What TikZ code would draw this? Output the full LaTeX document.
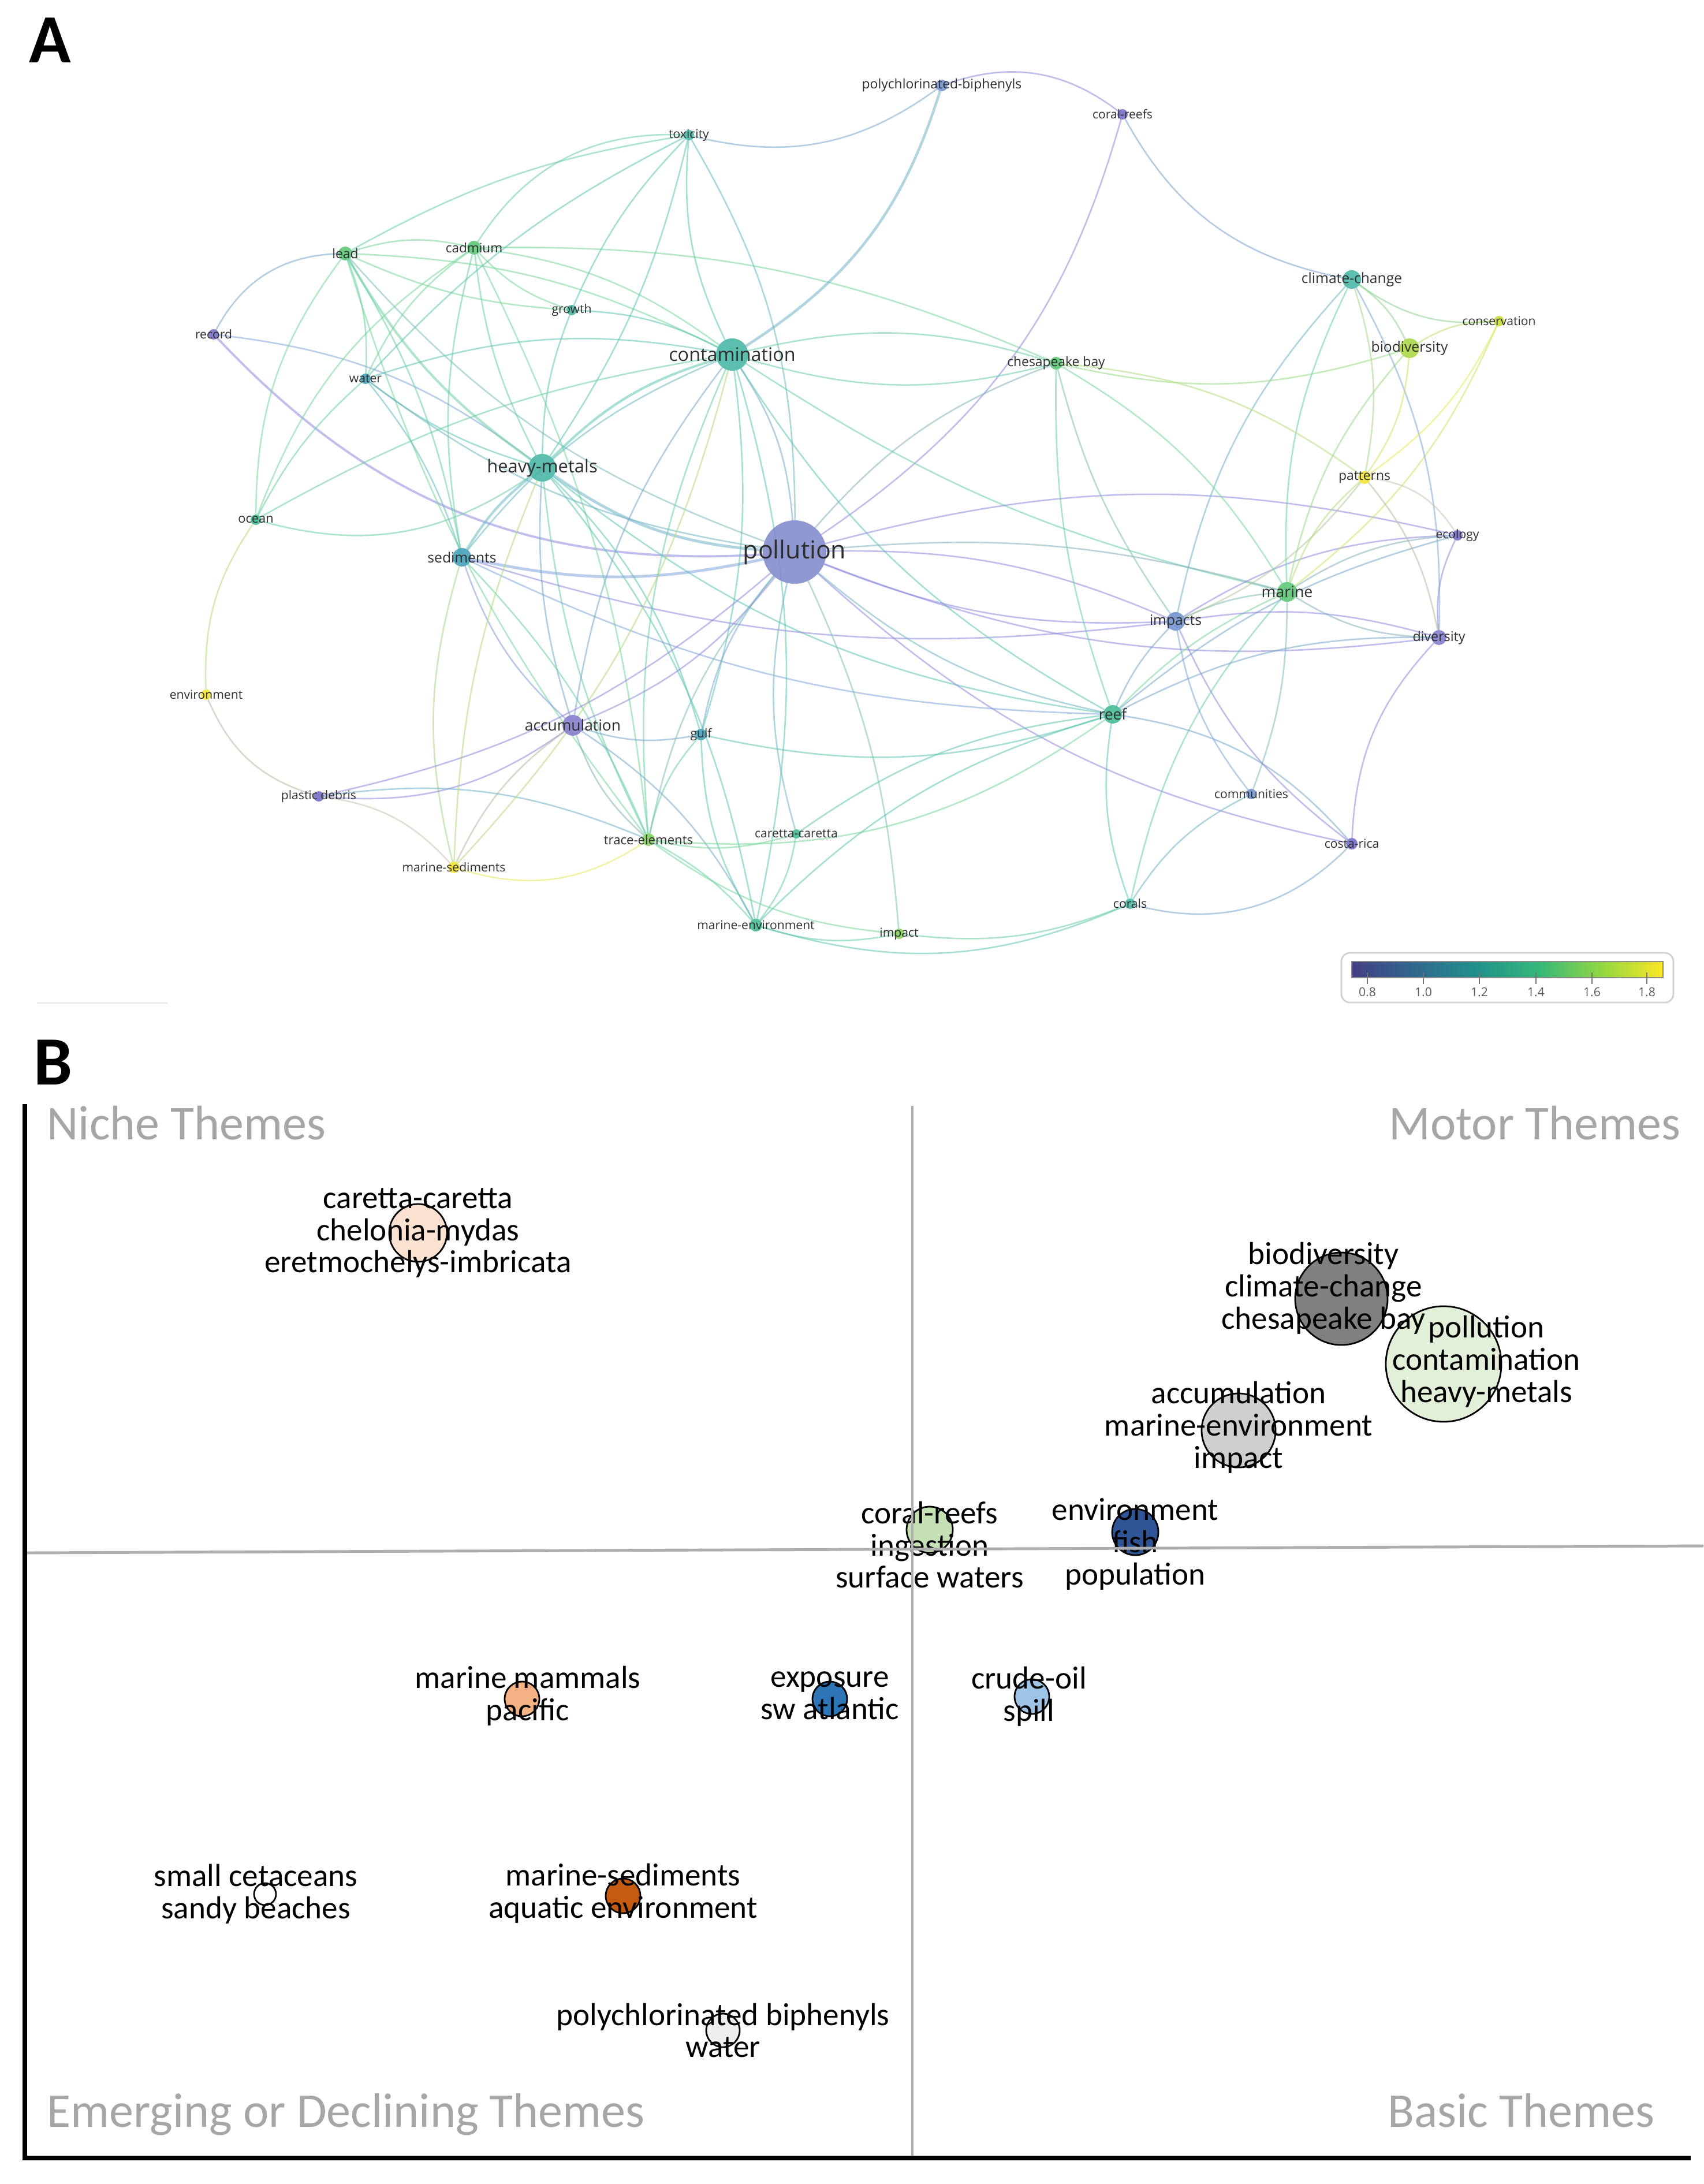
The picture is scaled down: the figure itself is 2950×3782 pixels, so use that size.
\documentclass[tikz,border=0pt]{standalone}
\usepackage{fontspec}
\setmainfont{Carlito}
\newfontfamily\vosfont{Open Sans}
\usetikzlibrary{backgrounds}

% keyword colours (map A)
\definecolor{kwViolet}{HTML}{6F67C2}
\definecolor{kwPeri}{HTML}{7D86CB}
\definecolor{kwLav}{HTML}{7E79C9}
\definecolor{kwSteel}{HTML}{6A8CCD}
\definecolor{kwCyan}{HTML}{3A9DB5}
\definecolor{kwTeal}{HTML}{3FB3A2}
\definecolor{kwSea}{HTML}{3BB78F}
\definecolor{kwGreen}{HTML}{55C570}
\definecolor{kwLeaf}{HTML}{80CD55}
\definecolor{kwLime}{HTML}{A8D43C}
\definecolor{kwChart}{HTML}{C9DC2E}
\definecolor{kwYellow}{HTML}{F1E22A}
\definecolor{kwText}{HTML}{2E2E2E}
% link colours
\definecolor{lkPurple}{HTML}{8C8ADF}
\definecolor{lkBlue}{HTML}{7FA6D9}
\definecolor{lkTeal}{HTML}{5EC5B2}
\definecolor{lkGreen}{HTML}{78D79A}
\definecolor{lkLime}{HTML}{B9E06C}
\definecolor{lkYellow}{HTML}{E9E85E}
\definecolor{lkGray}{HTML}{C9C4B5}
% viridis bar
\definecolor{vir0}{HTML}{433E85}
\definecolor{vir1}{HTML}{31688E}
\definecolor{vir2}{HTML}{21918C}
\definecolor{vir3}{HTML}{35B779}
\definecolor{vir4}{HTML}{90D743}
\definecolor{vir5}{HTML}{FDE725}
% theme colours (map B)
\definecolor{thTurtle}{HTML}{FBE2D0}
\definecolor{thDark}{HTML}{808080}
\definecolor{thPale}{HTML}{E2F0D9}
\definecolor{thSilver}{HTML}{D0CECE}
\definecolor{thSage}{HTML}{C5E0B4}
\definecolor{thNavy}{HTML}{2F5597}
\definecolor{thBlue}{HTML}{2E75B6}
\definecolor{thSky}{HTML}{9DC3E6}
\definecolor{thApricot}{HTML}{F4B183}
\definecolor{thRust}{HTML}{C55A11}
\definecolor{thMist}{HTML}{EDEDED}
\definecolor{thLabel}{HTML}{A6A6A6}
\definecolor{thLine}{HTML}{AEAEAE}

\pgfdeclarehorizontalshading{viridisbar}{100bp}{color(0bp)=(vir0); color(25bp)=(vir0); color(35bp)=(vir1); color(45bp)=(vir2); color(55bp)=(vir3); color(65bp)=(vir4); color(75bp)=(vir5); color(100bp)=(vir5)}

\begin{document}
\begin{tikzpicture}[x=0.01cm,y=-0.01cm]
  \tikzset{KeywordStyle/.style 2 args = {
    shape         = circle,
    draw          = none,
    fill          = #2,
    fill opacity  = 0.85,
    minimum size  = #1,
    inner sep     = 0pt,
    outer sep     = 0pt
    }
  }
  \tikzset{KeywordLabelStyle/.style = {
    font          = \vosfont\fontsize{#1}{#1}\selectfont,
    text          = kwText,
    inner sep     = 0pt
    }
  }
  \tikzset{LinkStyle/.style = {
    draw          = #1,
    draw opacity  = 0.55,
    line width    = 0.75pt
    }
  }
  \tikzset{ThemeBubbleStyle/.style 2 args = {
    shape         = circle,
    draw          = black,
    line width    = 0.8pt,
    fill          = #2,
    minimum size  = #1,
    inner sep     = 0pt
    }
  }
  \tikzset{ThemeTextStyle/.style = {
    font          = \fontsize{15.7}{15.9}\selectfont,
    align         = center,
    text          = black,
    inner sep     = 0pt
    }
  }
  \tikzset{QuadrantTextStyle/.style = {
    font          = \fontsize{23.9}{24}\selectfont,
    text          = thLabel,
    inner sep     = 0pt
    }
  }
  \tikzset{PanelStyle/.style = {
    font          = \bfseries\fontsize{34}{34}\selectfont,
    inner sep     = 0pt
    }
  }
  \tikzset{TickLabelStyle/.style = {
    font          = \vosfont\fontsize{6}{6}\selectfont,
    text          = black!65,
    inner sep     = 0pt
    }
  }

  \useasboundingbox (0,0) rectangle (2950,3782);

  % ---- panel A : keyword network
  \node[PanelStyle, anchor=base west] (panelA) at (50,109) {A};

	\node[KeywordStyle={1.10cm}{kwPeri}, label={[KeywordLabelStyle=12.2]center:pollution}] (pollution) at (1376,956) {};
	\node[KeywordStyle={0.56cm}{kwTeal}, label={[KeywordLabelStyle=9.2]center:contamination}] (contamination) at (1268,614) {};
	\node[KeywordStyle={0.48cm}{kwTeal}, label={[KeywordLabelStyle=8.8]center:heavy-metals}] (heavymetals) at (939,810) {};
	\node[KeywordStyle={0.36cm}{kwLav}, label={[KeywordLabelStyle=7.5]center:accumulation}] (accumulation) at (992,1256) {};
	\node[KeywordStyle={0.32cm}{kwCyan}, label={[KeywordLabelStyle=7.0]center:sediments}] (sediments) at (800,965) {};
	\node[KeywordStyle={0.32cm}{kwSea}, label={[KeywordLabelStyle=7.4]center:reef}] (reef) at (1927,1237) {};
	\node[KeywordStyle={0.34cm}{kwGreen}, label={[KeywordLabelStyle=7.6]center:marine}] (marine) at (2229,1025) {};
	\node[KeywordStyle={0.32cm}{kwSteel}, label={[KeywordLabelStyle=7.0]center:impacts}] (impacts) at (2036,1076) {};
	\node[KeywordStyle={0.32cm}{kwTeal}, label={[KeywordLabelStyle=7.0]center:climate-change}] (climatechange) at (2341,484) {};
	\node[KeywordStyle={0.34cm}{kwLime}, label={[KeywordLabelStyle=7.0]center:biodiversity}] (biodiversity) at (2441,603) {};
	\node[KeywordStyle={0.18cm}{kwChart}, label={[KeywordLabelStyle=6.0]center:conservation}] (conservation) at (2596,556) {};
	\node[KeywordStyle={0.22cm}{kwYellow}, label={[KeywordLabelStyle=6.5]center:patterns}] (patterns) at (2363,827) {};
	\node[KeywordStyle={0.18cm}{kwYellow}, label={[KeywordLabelStyle=6.0]center:environment}] (environment) at (357,1203) {};
	\node[KeywordStyle={0.20cm}{kwYellow}, label={[KeywordLabelStyle=6.0]center:marine-sediments}] (marinesediments) at (786,1502) {};
	\node[KeywordStyle={0.24cm}{kwGreen}, label={[KeywordLabelStyle=6.5]center:lead}] (lead) at (598,439) {};
	\node[KeywordStyle={0.24cm}{kwGreen}, label={[KeywordLabelStyle=6.4]center:cadmium}] (cadmium) at (821,429) {};
	\node[KeywordStyle={0.18cm}{kwTeal}, label={[KeywordLabelStyle=6.0]center:growth}] (growth) at (990,537) {};
	\node[KeywordStyle={0.18cm}{kwTeal}, label={[KeywordLabelStyle=6.0]center:toxicity}] (toxicity) at (1193,234) {};
	\node[KeywordStyle={0.18cm}{kwCyan}, label={[KeywordLabelStyle=6.0]center:water}] (water) at (633,656) {};
	\node[KeywordStyle={0.18cm}{kwSea}, label={[KeywordLabelStyle=6.2]center:ocean}] (ocean) at (443,900) {};
	\node[KeywordStyle={0.18cm}{kwViolet}, label={[KeywordLabelStyle=6.0]center:record}] (record) at (370,579) {};
	\node[KeywordStyle={0.18cm}{kwViolet}, label={[KeywordLabelStyle=6.0]center:plastic debris}] (plasticdebris) at (552,1379) {};
	\node[KeywordStyle={0.20cm}{kwSteel}, label={[KeywordLabelStyle=6.5]center:polychlorinated-biphenyls}] (pcb) at (1631,148) {};
	\node[KeywordStyle={0.18cm}{kwViolet}, label={[KeywordLabelStyle=6.0]center:coral-reefs}] (coralreefs) at (1944,198) {};
	\node[KeywordStyle={0.22cm}{kwGreen}, label={[KeywordLabelStyle=6.5]center:chesapeake bay}] (chesapeake) at (1829,629) {};
	\node[KeywordStyle={0.20cm}{kwCyan}, label={[KeywordLabelStyle=6.0]center:gulf}] (gulf) at (1214,1272) {};
	\node[KeywordStyle={0.22cm}{kwLeaf}, label={[KeywordLabelStyle=6.3]center:trace-elements}] (traceelements) at (1123,1454) {};
	\node[KeywordStyle={0.16cm}{kwSea}, label={[KeywordLabelStyle=6.0]center:caretta-caretta}] (carettacaretta) at (1379,1444) {};
	\node[KeywordStyle={0.22cm}{kwSea}, label={[KeywordLabelStyle=6.0]center:marine-environment}] (marineenvironment) at (1309,1602) {};
	\node[KeywordStyle={0.18cm}{kwLeaf}, label={[KeywordLabelStyle=6.0]center:impact}] (impact) at (1557,1617) {};
	\node[KeywordStyle={0.18cm}{kwTeal}, label={[KeywordLabelStyle=6.0]center:corals}] (corals) at (1957,1565) {};
	\node[KeywordStyle={0.18cm}{kwSteel}, label={[KeywordLabelStyle=6.0]center:communities}] (communities) at (2167,1375) {};
	\node[KeywordStyle={0.20cm}{kwViolet}, label={[KeywordLabelStyle=6.0]center:costa-rica}] (costarica) at (2341,1461) {};
	\node[KeywordStyle={0.26cm}{kwLav}, label={[KeywordLabelStyle=6.6]center:diversity}] (diversity) at (2492,1104) {};
	\node[KeywordStyle={0.18cm}{kwViolet}, label={[KeywordLabelStyle=6.0]center:ecology}] (ecology) at (2524,927) {};

  \begin{pgfonlayer}{background}
	\fill[white] (0,0) rectangle (2950,3782);
	\draw[LinkStyle=lkPurple!50!lkTeal](record) to[bend left=30] (lead);
	\draw[LinkStyle=lkPurple, line width=1.1pt](record) to[bend right=25] (pollution);
	\draw[LinkStyle=lkBlue](record) to[bend left=15] (heavymetals);
	\draw[LinkStyle=lkGreen](lead) to[bend left=15] (cadmium);
	\draw[LinkStyle=lkGreen](lead) to[bend right=10] (growth);
	\draw[LinkStyle=lkGreen](lead) to[bend left=12] (contamination);
	\draw[LinkStyle=lkGreen!60!lkTeal, line width=1.2pt](lead) to[bend right=12] (heavymetals);
	\draw[LinkStyle=lkGreen!50!lkTeal](lead) to[bend left=10] (sediments);
	\draw[LinkStyle=lkGreen](lead) to[bend right=18] (ocean);
	\draw[LinkStyle=lkGreen!50!lkTeal](lead) to[bend left=12] (water);
	\draw[LinkStyle=lkGreen!40!lkBlue](lead) to[bend right=14] (pollution);
	\draw[LinkStyle=lkGreen](lead) to[bend right=10] (traceelements);
	\draw[LinkStyle=lkGreen!50!lkTeal](cadmium) to[bend right=10] (heavymetals);
	\draw[LinkStyle=lkGreen](cadmium) to[bend left=14] (contamination);
	\draw[LinkStyle=lkGreen](cadmium) to[bend right=14] (growth);
	\draw[LinkStyle=lkGreen!50!lkTeal](cadmium) to[bend right=12] (sediments);
	\draw[LinkStyle=lkGreen](cadmium) to[bend right=14] (water);
	\draw[LinkStyle=lkGreen](cadmium) to[bend right=18] (ocean);
	\draw[LinkStyle=lkGreen](cadmium) to[bend left=12] (chesapeake);
	\draw[LinkStyle=lkGreen](cadmium) to[bend left=10] (traceelements);
	\draw[LinkStyle=lkTeal!50!lkGreen](toxicity) to[bend right=30] (cadmium);
	\draw[LinkStyle=lkTeal!50!lkGreen](toxicity) to[bend right=10] (lead);
	\draw[LinkStyle=lkTeal](toxicity) to[bend left=10] (heavymetals);
	\draw[LinkStyle=lkTeal](toxicity) to[bend right=10] (water);
	\draw[LinkStyle=lkTeal](toxicity) to[bend right=15] (contamination);
	\draw[LinkStyle=lkTeal!60!lkBlue](toxicity) to[bend left=15] (pollution);
	\draw[LinkStyle=lkTeal!50!lkPurple](toxicity) to[bend right=25] (pcb);
	\draw[LinkStyle=lkTeal](toxicity) to[bend right=10] (growth);
	\draw[LinkStyle=lkBlue!60!lkTeal, line width=1.3pt](pcb) to[bend left=20] (contamination);
	\draw[LinkStyle=lkPurple](pcb) to[bend left=28] (coralreefs);
	\draw[LinkStyle=lkPurple!60!lkTeal](coralreefs) to[bend right=25] (climatechange);
	\draw[LinkStyle=lkPurple](coralreefs) to[bend left=20] (pollution);
	\draw[LinkStyle=lkTeal](water) to[bend right=10] (heavymetals);
	\draw[LinkStyle=lkTeal](water) to[bend left=14] (contamination);
	\draw[LinkStyle=lkBlue!50!lkTeal](water) to[bend right=14] (pollution);
	\draw[LinkStyle=lkTeal!60!lkBlue](water) to[bend left=10] (sediments);
	\draw[LinkStyle=lkTeal!50!lkGreen](water) to[bend right=10] (ocean);
	\draw[LinkStyle=lkTeal](growth) to[bend right=10] (heavymetals);
	\draw[LinkStyle=lkTeal](growth) to[bend left=12] (contamination);
	\draw[LinkStyle=lkTeal!50!lkGreen](ocean) to[bend right=25] (heavymetals);
	\draw[LinkStyle=lkGreen!50!lkYellow](ocean) to[bend right=18] (environment);
	\draw[LinkStyle=lkYellow!50!lkPurple](environment) to[bend right=25] (plasticdebris);
	\draw[LinkStyle=lkGreen!50!lkTeal](ocean) to[bend left=10] (contamination);
	\draw[LinkStyle=lkTeal, line width=1.2pt](heavymetals) to[bend left=14] (contamination);
	\draw[LinkStyle=lkTeal!60!lkBlue, line width=1.2pt](heavymetals) to[bend right=10] (sediments);
	\draw[LinkStyle=lkBlue!60!lkTeal, line width=1.4pt](heavymetals) to[bend right=15] (pollution);
	\draw[LinkStyle=lkTeal!50!lkPurple](heavymetals) to[bend right=10] (accumulation);
	\draw[LinkStyle=lkTeal!50!lkGreen](heavymetals) to[bend right=10] (traceelements);
	\draw[LinkStyle=lkTeal](heavymetals) to[bend left=14] (marineenvironment);
	\draw[LinkStyle=lkTeal](heavymetals) to[bend left=14] (gulf);
	\draw[LinkStyle=lkTeal](heavymetals) to[bend right=15] (reef);
	\draw[LinkStyle=lkBlue, line width=1.4pt](sediments) to[bend right=12] (pollution);
	\draw[LinkStyle=lkBlue!60!lkPurple](sediments) to[bend right=14] (accumulation);
	\draw[LinkStyle=lkTeal!60!lkBlue](sediments) to[bend left=14] (contamination);
	\draw[LinkStyle=lkYellow!50!lkTeal](sediments) to[bend right=15] (marinesediments);
	\draw[LinkStyle=lkTeal!50!lkGreen](sediments) to[bend left=10] (traceelements);
	\draw[LinkStyle=lkPurple](sediments) to[bend right=12] (impacts);
	\draw[LinkStyle=lkBlue](sediments) to[bend right=12] (reef);
	\draw[LinkStyle=lkTeal!50!lkPurple](contamination) to[bend left=14] (pollution);
	\draw[LinkStyle=lkTeal!50!lkGreen](contamination) to[bend left=15] (chesapeake);
	\draw[LinkStyle=lkTeal!50!lkGreen](contamination) to[bend right=15] (chesapeake);
	\draw[LinkStyle=lkTeal](contamination) to[bend right=14] (reef);
	\draw[LinkStyle=lkTeal!50!lkGreen](contamination) to[bend right=10] (marine);
	\draw[LinkStyle=lkTeal!50!lkPurple](contamination) to[bend right=14] (accumulation);
	\draw[LinkStyle=lkTeal](contamination) to[bend left=14] (marineenvironment);
	\draw[LinkStyle=lkTeal!50!lkGreen](contamination) to[bend right=14] (traceelements);
	\draw[LinkStyle=lkTeal](contamination) to[bend left=12] (gulf);
	\draw[LinkStyle=lkPurple](pollution) to[bend left=12] (impacts);
	\draw[LinkStyle=lkPurple](pollution) to[bend right=12] (impacts);
	\draw[LinkStyle=lkPurple!50!lkGreen](pollution) to[bend left=10] (marine);
	\draw[LinkStyle=lkPurple](pollution) to[bend right=14] (diversity);
	\draw[LinkStyle=lkPurple](pollution) to[bend left=14] (ecology);
	\draw[LinkStyle=lkBlue!50!lkTeal](pollution) to[bend right=14] (reef);
	\draw[LinkStyle=lkPurple](pollution) to[bend right=15] (costarica);
	\draw[LinkStyle=lkBlue](pollution) to[bend right=14] (gulf);
	\draw[LinkStyle=lkPurple](pollution) to[bend left=14] (accumulation);
	\draw[LinkStyle=lkBlue!50!lkTeal](pollution) to[bend right=14] (carettacaretta);
	\draw[LinkStyle=lkBlue!40!lkGreen](pollution) to[bend left=10] (impact);
	\draw[LinkStyle=lkPurple](pollution) to[bend left=14] (plasticdebris);
	\draw[LinkStyle=lkBlue!50!lkGreen](pollution) to[bend right=14] (traceelements);
	\draw[LinkStyle=lkPurple!50!lkGreen](pollution) to[bend left=14] (chesapeake);
	\draw[LinkStyle=lkPurple](accumulation) to[bend left=20] (plasticdebris);
	\draw[LinkStyle=lkPurple!50!lkYellow](accumulation) to[bend right=14] (marinesediments);
	\draw[LinkStyle=lkPurple!50!lkGreen](accumulation) to[bend right=14] (traceelements);
	\draw[LinkStyle=lkPurple!50!lkTeal](accumulation) to[bend left=14] (marineenvironment);
	\draw[LinkStyle=lkPurple!50!lkTeal](accumulation) to[bend right=14] (gulf);
	\draw[LinkStyle=lkGray](plasticdebris) to[bend left=20] (marinesediments);
	\draw[LinkStyle=lkBlue!60!lkTeal](plasticdebris) to[bend left=15] (traceelements);
	\draw[LinkStyle=lkYellow](marinesediments) to[bend right=25] (traceelements);
	\draw[LinkStyle=lkYellow!60!lkTeal](marinesediments) to[bend right=14] (contamination);
	\draw[LinkStyle=lkYellow!60!lkTeal](marinesediments) to[bend left=10] (heavymetals);
	\draw[LinkStyle=lkGreen](traceelements) to[bend right=20] (reef);
	\draw[LinkStyle=lkGreen](traceelements) to[bend right=14] (carettacaretta);
	\draw[LinkStyle=lkGreen!50!lkTeal](traceelements) to[bend left=10] (marineenvironment);
	\draw[LinkStyle=lkGreen](traceelements) to[bend right=15] (impact);
	\draw[LinkStyle=lkGreen!50!lkTeal](traceelements) to[bend left=14] (gulf);
	\draw[LinkStyle=lkTeal](gulf) to[bend right=15] (reef);
	\draw[LinkStyle=lkTeal](gulf) to[bend right=14] (marineenvironment);
	\draw[LinkStyle=lkTeal!50!lkGreen](carettacaretta) to[bend left=14] (marineenvironment);
	\draw[LinkStyle=lkTeal](carettacaretta) to[bend left=14] (reef);
	\draw[LinkStyle=lkTeal!50!lkGreen](marineenvironment) to[bend right=14] (impact);
	\draw[LinkStyle=lkTeal](marineenvironment) to[bend right=20] (corals);
	\draw[LinkStyle=lkTeal](marineenvironment) to[bend left=14] (reef);
	\draw[LinkStyle=lkGreen!50!lkTeal](impact) to[bend right=14] (corals);
	\draw[LinkStyle=lkTeal](corals) to[bend left=14] (reef);
	\draw[LinkStyle=lkTeal!50!lkBlue](corals) to[bend left=15] (communities);
	\draw[LinkStyle=lkTeal!50!lkPurple](corals) to[bend right=30] (costarica);
	\draw[LinkStyle=lkTeal!50!lkGreen](corals) to[bend left=14] (marine);
	\draw[LinkStyle=lkTeal!50!lkPurple](reef) to[bend left=10] (impacts);
	\draw[LinkStyle=lkGreen](reef) to[bend left=10] (marine);
	\draw[LinkStyle=lkPurple!50!lkTeal](reef) to[bend left=20] (costarica);
	\draw[LinkStyle=lkPurple!50!lkTeal](reef) to[bend left=14] (diversity);
	\draw[LinkStyle=lkGreen!50!lkTeal](reef) to[bend left=10] (chesapeake);
	\draw[LinkStyle=lkPurple!50!lkTeal](reef) to[bend left=12] (ecology);
	\draw[LinkStyle=lkBlue](communities) to[bend left=14] (impacts);
	\draw[LinkStyle=lkBlue!50!lkGreen](communities) to[bend right=10] (marine);
	\draw[LinkStyle=lkPurple](costarica) to[bend left=20] (diversity);
	\draw[LinkStyle=lkPurple](impacts) to[bend right=14] (costarica);
	\draw[LinkStyle=lkBlue!50!lkGreen](impacts) to[bend left=10] (marine);
	\draw[LinkStyle=lkPurple](impacts) to[bend left=12] (diversity);
	\draw[LinkStyle=lkPurple](impacts) to[bend left=15] (ecology);
	\draw[LinkStyle=lkBlue!50!lkTeal](impacts) to[bend left=15] (climatechange);
	\draw[LinkStyle=lkBlue!50!lkYellow](impacts) to[bend right=14] (patterns);
	\draw[LinkStyle=lkGreen!50!lkPurple](marine) to[bend right=15] (diversity);
	\draw[LinkStyle=lkGreen!50!lkPurple](marine) to[bend left=14] (ecology);
	\draw[LinkStyle=lkGreen!50!lkYellow](marine) to[bend left=14] (patterns);
	\draw[LinkStyle=lkGreen!50!lkLime](marine) to[bend left=14] (biodiversity);
	\draw[LinkStyle=lkGreen](marine) to[bend right=14] (chesapeake);
	\draw[LinkStyle=lkTeal!50!lkGreen](marine) to[bend left=14] (climatechange);
	\draw[LinkStyle=lkLime!60!lkYellow](marine) to[bend right=14] (conservation);
	\draw[LinkStyle=lkPurple](diversity) to[bend left=15] (ecology);
	\draw[LinkStyle=lkBlue](diversity) to[bend right=15] (climatechange);
	\draw[LinkStyle=lkPurple!50!lkYellow](diversity) to[bend right=14] (patterns);
	\draw[LinkStyle=lkGray](ecology) to[bend right=25] (patterns);
	\draw[LinkStyle=lkTeal!50!lkLime](climatechange) to[bend left=14] (biodiversity);
	\draw[LinkStyle=lkTeal!50!lkLime](climatechange) to[bend right=20] (conservation);
	\draw[LinkStyle=lkTeal!50!lkYellow](climatechange) to[bend left=14] (patterns);
	\draw[LinkStyle=lkLime](biodiversity) to[bend left=15] (conservation);
	\draw[LinkStyle=lkLime!60!lkYellow](biodiversity) to[bend left=15] (patterns);
	\draw[LinkStyle=lkLime!50!lkGreen](biodiversity) to[bend left=15] (chesapeake);
	\draw[LinkStyle=lkYellow](conservation) to[bend left=14] (patterns);
	\draw[LinkStyle=lkGreen!50!lkYellow](chesapeake) to[bend left=15] (patterns);
	\draw[LinkStyle=lkGreen!50!lkBlue](chesapeake) to[bend right=10] (impacts);
  \end{pgfonlayer}

  % colour scale
  \draw[black!18, line width=0.8pt, rounded corners=0.15cm] (2323,1650) rectangle (2898,1736);
  \shade[shading=viridisbar] (2341,1665) rectangle (2880,1693);
  \draw[black!45, line width=0.4pt] (2341,1665) rectangle (2880,1693);
	\node[TickLabelStyle] (tick08) at (2368,1718) {0.8};
	\node[TickLabelStyle] (tick10) at (2465,1718) {1.0};
	\node[TickLabelStyle] (tick12) at (2562,1718) {1.2};
	\node[TickLabelStyle] (tick14) at (2660,1718) {1.4};
	\node[TickLabelStyle] (tick16) at (2757,1718) {1.6};
	\node[TickLabelStyle] (tick18) at (2852,1718) {1.8};
  \draw[black!55, line width=0.5pt] (2368,1684) -- (2368,1704) (2465,1684) -- (2465,1704) (2562,1684) -- (2562,1704) (2660,1684) -- (2660,1704) (2757,1684) -- (2757,1704) (2852,1684) -- (2852,1704);
  \draw[black!10, line width=0.8pt] (64,1737) -- (290,1737);

  % ---- panel B : thematic map
  \node[PanelStyle, anchor=base west] (panelB) at (58,1878) {B};
	\node[QuadrantTextStyle, anchor=base west] (niche) at (81,1973) {Niche Themes};
	\node[QuadrantTextStyle, anchor=base east] (motor) at (2911,1973) {Motor Themes};
	\node[QuadrantTextStyle, anchor=base west] (emerging) at (81,3683) {Emerging or Declining Themes};
	\node[QuadrantTextStyle, anchor=base east] (basic) at (2866,3683) {Basic Themes};

	\node[ThemeBubbleStyle={1.0cm}{thTurtle}, label={[ThemeTextStyle]center:caretta-caretta\\chelonia-mydas\\eretmochelys-imbricata}] (tTurtles) at (724,2135) {};
	\node[ThemeBubbleStyle={2.0cm}{thPale}, label={[ThemeTextStyle, xshift=0.74cm, yshift=0.04cm]center:pollution\\contamination\\heavy-metals}] (tPollution) at (2500,2362) {};
	\node[ThemeBubbleStyle={1.6cm}{thDark}, label={[ThemeTextStyle, xshift=-0.31cm, yshift=0.18cm]center:biodiversity\\climate-change\\chesapeake bay}] (tBiodiversity) at (2323,2249) {};
	\node[ThemeBubbleStyle={1.28cm}{thSilver}, label={[ThemeTextStyle, yshift=0.05cm]center:accumulation\\marine-environment\\impact}] (tAccumulation) at (2145,2477) {};
	\node[ThemeBubbleStyle={0.8cm}{thSage}, label={[ThemeTextStyle, yshift=-0.26cm]center:coral-reefs\\ingestion\\surface waters}] (tCoralReefs) at (1610,2649) {};
	\node[ThemeBubbleStyle={0.8cm}{thNavy}, label={[ThemeTextStyle, yshift=-0.21cm]center:environment\\fish\\population}] (tFish) at (1966,2653) {};
	\node[ThemeBubbleStyle={0.6cm}{thBlue}, label={[ThemeTextStyle, yshift=0.06cm]center:exposure\\sw atlantic}] (tExposure) at (1437,2942) {};
	\node[ThemeBubbleStyle={0.6cm}{thSky}, label={[ThemeTextStyle, xshift=-0.05cm]center:crude-oil\\spill}] (tCrudeOil) at (1787,2938) {};
	\node[ThemeBubbleStyle={0.6cm}{thApricot}, label={[ThemeTextStyle, xshift=0.1cm, yshift=0.05cm]center:marine mammals\\pacific}] (tMammals) at (904,2942) {};
	\node[ThemeBubbleStyle={0.38cm}{white}, label={[ThemeTextStyle, xshift=-0.16cm]center:small cetaceans\\sandy beaches}] (tCetaceans) at (459,3280) {};
	\node[ThemeBubbleStyle={0.6cm}{thRust}, label={[ThemeTextStyle, yshift=0.04cm]center:marine-sediments\\aquatic environment}] (tSediments) at (1079,3283) {};
	\node[ThemeBubbleStyle={0.58cm}{thMist}, label={[ThemeTextStyle]center:polychlorinated biphenyls\\water}] (tPCB) at (1252,3516) {};

  % quadrant lines and axes
  \draw[thLine, line width=1.4pt] (1580,1915) -- (1580,3733);
  \draw[thLine, line width=1.4pt] (43,2689) -- (2950,2677);
  \draw[black, line width=2.3pt] (43,1912) -- (43,3737) -- (2928,3737);

\end{tikzpicture}
\end{document}
